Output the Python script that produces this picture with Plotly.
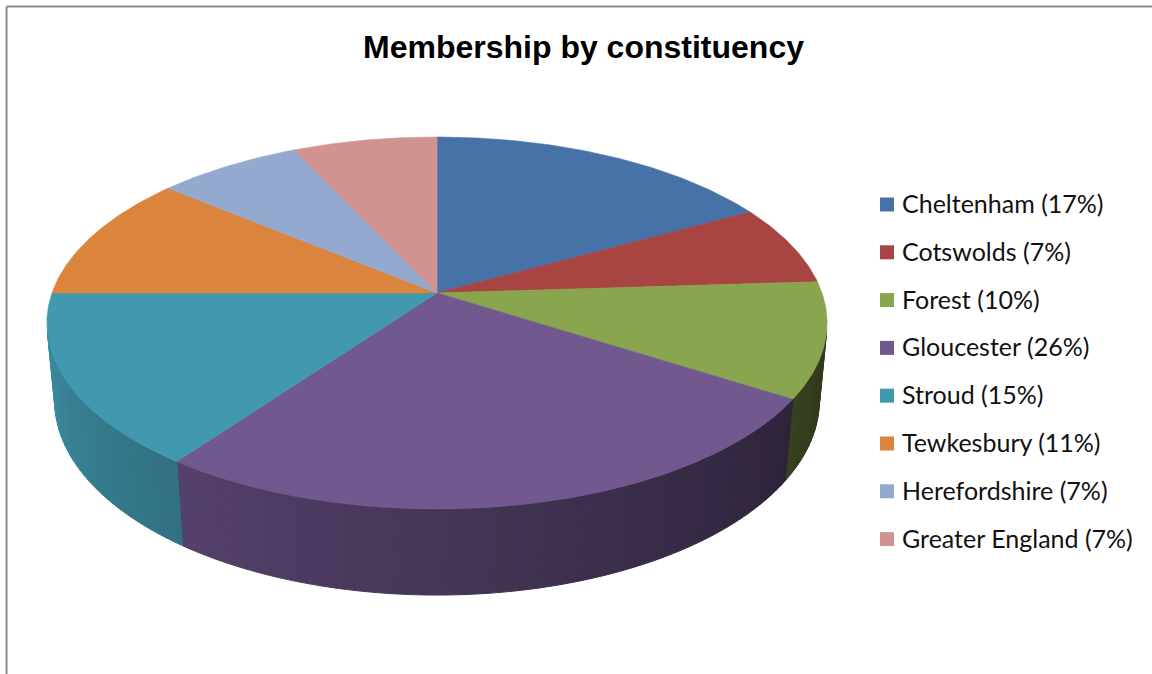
import numpy as np
import plotly.graph_objects as go

# Membership shares by constituency (percent)
categories = ["Cheltenham", "Cotswolds", "Forest", "Gloucester",
              "Stroud", "Tewkesbury", "Herefordshire", "Greater England"]
shares = [17, 7, 10, 26, 15, 11, 7, 7]
colors = ["#4672A8", "#A84543", "#89A54E", "#71588F",
          "#4198AF", "#DA843D", "#93A9CF", "#D09392"]
title_text = "Membership by constituency"

W, H = 1152, 674

# 3D pie geometry: unit disc of thickness DEPTH viewed with perspective
CX, CY = 437.0, 293.0          # screen position of the pie centre
ELEV = np.radians(28.07)       # camera elevation
DIST = 5.47                    # camera distance (disc radii)
FOCAL = 2106.0                 # projection scale (px)
DEPTH = 0.23                   # disc thickness (disc radii)
S, C = np.sin(ELEV), np.cos(ELEV)


def project(X, Y, Z):
    xc = X
    yc = Y * S + Z * C
    zc = Y * C - Z * S + DIST
    return CX + FOCAL * xc / zc, CY - FOCAL * yc / zc


def rim(a0, a1, z, step=0.5):
    n = max(2, int(np.ceil(abs(a1 - a0) / step)) + 1)
    t = np.radians(np.linspace(a0, a1, n))
    return project(np.sin(t), np.cos(t), np.full_like(t, z))


def shade(hex_col, f):
    r, g, b = (int(hex_col[i:i + 2], 16) for i in (1, 3, 5))
    return "rgb({},{},{})".format(*(int(round(min(255, v * f))) for v in (r, g, b)))


def wall_light(theta):
    # light comes from the left: walls facing right are much darker
    return float(np.clip(0.37 + (theta - 115.0) * 0.0037, 0.35, 0.95))


total = float(sum(shares))
bounds = np.concatenate([[0.0], np.cumsum(shares)]) * 360.0 / total

# the outer wall faces the camera where cos(theta) < -1/(DIST*cos(elev))
vis = np.degrees(np.arccos(-1.0 / (DIST * C)))
vis_lo, vis_hi = vis, 360.0 - vis

fig = go.Figure()

# side walls, split into narrow strips for the lighting gradient
for name, col, a0, a1 in zip(categories, colors, bounds[:-1], bounds[1:]):
    lo, hi = max(a0, vis_lo), min(a1, vis_hi)
    if hi <= lo:
        continue
    edges = np.linspace(lo, hi, max(2, int(np.ceil((hi - lo) / 1.5)) + 1))
    for e0, e1 in zip(edges[:-1], edges[1:]):
        tx, ty = rim(e0, e1, 0.0, 0.25)
        bx, by = rim(e1, e0, -DEPTH, 0.25)
        fc = shade(col, wall_light(0.5 * (e0 + e1)))
        fig.add_trace(go.Scatter(
            x=np.concatenate([tx, bx, tx[:1]]), y=np.concatenate([ty, by, ty[:1]]),
            mode="lines", fill="toself", fillcolor=fc,
            line=dict(color=fc, width=1), hoverinfo="skip", showlegend=False))

# top faces
for name, col, v, a0, a1 in zip(categories, colors, shares, bounds[:-1], bounds[1:]):
    ax, ay = rim(a0, a1, 0.0)
    px, py = project(0.0, 0.0, 0.0)
    fig.add_trace(go.Scatter(
        x=np.concatenate([[px], ax, [px]]), y=np.concatenate([[py], ay, [py]]),
        mode="lines", fill="toself", fillcolor=col,
        line=dict(color=col, width=0.6), name=f"{name} ({v}%)",
        hoverinfo="name", showlegend=False))

# legend
LEG_X, LEG_Y0, LEG_STEP, SQ = 880.0, 204.5, 47.8, 14.0
shapes = []
annotations = []
for i, (name, col, v) in enumerate(zip(categories, colors, shares)):
    yc = LEG_Y0 + i * LEG_STEP
    shapes.append(dict(type="rect", xref="x", yref="y",
                       x0=LEG_X, x1=LEG_X + SQ, y0=yc - SQ / 2, y1=yc + SQ / 2,
                       fillcolor=col, line=dict(width=0)))
    annotations.append(dict(x=LEG_X + SQ + 6, y=yc - 1.5, xref="x", yref="y",
                            text=f"{name} ({v}%)", showarrow=False,
                            xanchor="left", yanchor="middle",
                            font=dict(family="Lato", size=25, color="#111111")))

annotations.append(dict(x=583, y=47, xref="x", yref="y", text=f"<b>{title_text}</b>",
                        showarrow=False, xanchor="center", yanchor="middle",
                        font=dict(family="Liberation Sans", size=32, color="#000000")))

# chart area frame (top and left edges)
shapes.append(dict(type="line", xref="x", yref="y", x0=6.5, x1=W, y0=6.5, y1=6.5,
                   line=dict(color="#8c8c8c", width=2)))
shapes.append(dict(type="line", xref="x", yref="y", x0=6.5, x1=6.5, y0=6.5, y1=H,
                   line=dict(color="#8c8c8c", width=2)))

fig.update_layout(
    width=W, height=H, autosize=False,
    margin=dict(l=0, r=0, t=0, b=0, pad=0),
    paper_bgcolor="white", plot_bgcolor="white",
    xaxis=dict(range=[0, W], visible=False, fixedrange=True),
    yaxis=dict(range=[H, 0], visible=False, fixedrange=True),
    shapes=shapes, annotations=annotations, showlegend=False,
)

fig.write_html("out.html")
